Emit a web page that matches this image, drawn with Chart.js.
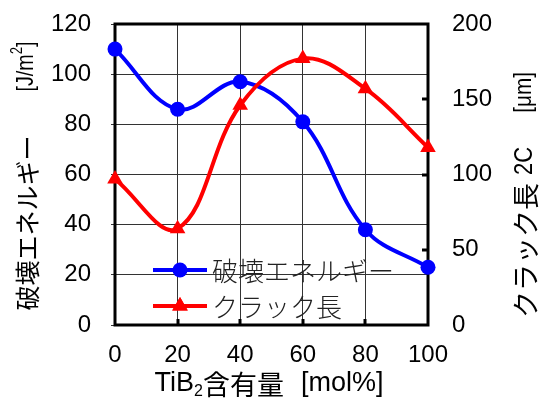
<!DOCTYPE html>
<html>
<head>
<meta charset="utf-8">
<script src="https://cdn.jsdelivr.net/npm/chart.js@4/dist/chart.umd.min.js"></script>
<style>
  html, body { margin: 0; padding: 0; background: #fff; }
  #wrap { width: 542px; height: 398px; }
</style>
</head>
<body>
<div id="wrap"><canvas id="c" width="542" height="398"></canvas></div>
<script>
// TiB2 content (mol%)
const tib2Content = [0, 20, 40, 60, 80, 100];
// Fracture energy [J/m2] (left axis)
const fractureEnergy = [110, 86, 97, 81, 38, 23];
// Crack length 2C [um] (right axis)
const crackLength = [97, 64, 146, 177, 157, 118];

const energyLabel = '破壊エネルギー';
const crackLabel = 'クラック長';

const latinFont = '"Liberation Sans", Arial, sans-serif';
const cjkFont = '"Noto Sans CJK JP", sans-serif';

function pts(ys) { return tib2Content.map((x, i) => ({ x: x, y: ys[i] })); }

// a run of text pieces; a piece is either text (own font, offset, horizontal squeeze) or a blank gap
function drawPieces(ctx, pieces, x, y) {
  let cx = x;
  pieces.forEach(p => {
    if (p.gap) { cx += p.gap; return; }
    const sx = p.sx || 1;
    ctx.font = p.font;
    ctx.save();
    ctx.translate(cx, y + (p.dy || 0));
    ctx.scale(sx, 1);
    ctx.fillText(p.t, 0, 0);
    ctx.restore();
    cx += ctx.measureText(p.t).width * sx;
  });
}
function measurePieces(ctx, pieces) {
  let w = 0;
  pieces.forEach(p => {
    if (p.gap) { w += p.gap; return; }
    ctx.font = p.font; w += ctx.measureText(p.t).width * (p.sx || 1);
  });
  return w;
}

const framePlugin = {
  id: 'frame',
  beforeDatasetsDraw(chart) {
    const { ctx, chartArea: a } = chart;
    ctx.save();
    ctx.strokeStyle = '#000';
    ctx.lineWidth = 3;
    ctx.strokeRect(a.left, a.top, a.right - a.left, a.bottom - a.top);
    // inward tick marks on the right axis
    const y1 = chart.scales.y1;
    [50, 100, 150].forEach(v => {
      const py = Math.round(y1.getPixelForValue(v));
      ctx.beginPath();
      ctx.moveTo(a.right - 6, py);
      ctx.lineTo(a.right, py);
      ctx.stroke();
    });
    // inward tick marks on the bottom axis
    const xs = chart.scales.x;
    [20, 40, 60, 80].forEach(v => {
      const px = Math.round(xs.getPixelForValue(v));
      ctx.beginPath();
      ctx.moveTo(px, a.bottom - 6);
      ctx.lineTo(px, a.bottom);
      ctx.stroke();
    });
    ctx.restore();
  }
};

const titlesPlugin = {
  id: 'titles',
  afterDraw(chart) {
    const { ctx } = chart;
    ctx.save();
    ctx.fillStyle = '#000';
    ctx.textBaseline = 'middle';
    ctx.textAlign = 'left';

    // x axis title
    const xt = [
      { t: 'TiB', font: '27px ' + latinFont },
      { t: '2', font: '16px ' + latinFont, dy: 8 },
      { t: '含有量', font: '27px ' + cjkFont, dy: 1 },
      { gap: 17 },
      { t: '[mol%]', font: '27px ' + latinFont }
    ];
    const xw = measurePieces(ctx, xt);
    drawPieces(ctx, xt, 269 - xw / 2, 384);

    // left axis title, reads bottom to top
    const lt = [
      { t: '破壊エネルギー', font: '25px ' + cjkFont, dy: 1 },
      { gap: 44 },
      { t: '[J/m', font: '24px ' + latinFont, sx: 0.82 },
      { t: '2', font: '16px ' + latinFont, dy: -8, sx: 0.82 },
      { t: ']', font: '24px ' + latinFont, sx: 0.82 }
    ];
    const lw = measurePieces(ctx, lt);
    ctx.save();
    ctx.translate(26, 176);
    ctx.rotate(-Math.PI / 2);
    drawPieces(ctx, lt, -lw / 2, 0);
    ctx.restore();

    // right axis title, reads bottom to top
    const rt = [
      { t: 'クラック長', font: '27px ' + cjkFont, dy: 1 },
      { gap: 8 },
      { t: '2C', font: '25px ' + latinFont, sx: 0.88 },
      { gap: 34 },
      { t: '[μm]', font: '23px ' + latinFont, sx: 0.9 }
    ];
    const rw = measurePieces(ctx, rt);
    ctx.save();
    ctx.translate(525, 195);
    ctx.rotate(-Math.PI / 2);
    drawPieces(ctx, rt, -rw / 2, 0);
    ctx.restore();

    ctx.restore();
  }
};

// legend drawn inside the plot area, lower left
const legendPlugin = {
  id: 'insideLegend',
  afterDraw(chart) {
    const { ctx } = chart;
    const items = [chart.data.datasets[1], chart.data.datasets[0]];
    ctx.save();
    items.forEach((ds, i) => {
      const y = 270 + i * 36;
      const x0 = 153, x1 = 207, xm = (x0 + x1) / 2;
      ctx.strokeStyle = ds.borderColor;
      ctx.lineWidth = ds.borderWidth;
      ctx.beginPath(); ctx.moveTo(x0, y); ctx.lineTo(x1, y); ctx.stroke();
      ctx.fillStyle = ds.pointBackgroundColor;
      if (ds.pointStyle === 'circle') {
        ctx.beginPath(); ctx.arc(xm, y, ds.pointRadius, 0, Math.PI * 2); ctx.fill();
      } else {
        Chart.helpers.drawPoint(ctx, { pointStyle: 'triangle', radius: ds.pointRadius, borderWidth: 0 }, xm, y);
        ctx.fill();
      }
      ctx.fillStyle = '#222';
      ctx.font = '300 26px ' + cjkFont;
      ctx.textBaseline = 'middle';
      ctx.textAlign = 'left';
      ctx.fillText(ds.label, 212, y + 1);
    });
    ctx.restore();
  }
};

const tickFont = { family: latinFont, size: 24 };

new Chart(document.getElementById('c'), {
  type: 'line',
  data: {
    datasets: [
      {
        label: crackLabel,
        data: pts(crackLength),
        yAxisID: 'y1',
        borderColor: '#ff0000',
        backgroundColor: '#ff0000',
        pointBackgroundColor: '#ff0000',
        pointBorderColor: '#ff0000',
        pointStyle: 'triangle',
        pointRadius: 9,
        pointBorderWidth: 0,
        borderWidth: 4,
        tension: 0.38,
        clip: false,
        order: 0
      },
      {
        label: energyLabel,
        data: pts(fractureEnergy),
        yAxisID: 'y',
        borderColor: '#0000ff',
        backgroundColor: '#0000ff',
        pointBackgroundColor: '#0000ff',
        pointBorderColor: '#0000ff',
        pointStyle: 'circle',
        pointRadius: 7.5,
        pointBorderWidth: 0,
        borderWidth: 4,
        tension: 0.38,
        clip: false,
        order: 1
      }
    ]
  },
  options: {
    responsive: false,
    animation: false,
    layout: { padding: { top: 24, left: 0, right: 0, bottom: 0 } },
    plugins: { legend: { display: false }, tooltip: { enabled: false } },
    scales: {
      x: {
        type: 'linear',
        min: 0, max: 100,
        ticks: { stepSize: 20, color: '#000', font: tickFont, padding: 16 },
        grid: { color: '#333', lineWidth: 1, drawTicks: false },
        border: { display: false },
        afterFit(s) { s.height = 73; s.paddingLeft = 0; s.paddingRight = 0; }
      },
      y: {
        position: 'left',
        min: 0, max: 120,
        ticks: { stepSize: 20, color: '#000', font: tickFont, padding: 20 },
        grid: { color: '#333', lineWidth: 1, tickLength: 4 },
        border: { display: false },
        afterFit(s) { s.width = 115; s.paddingTop = 0; s.paddingBottom = 0; }
      },
      y1: {
        position: 'right',
        min: 0, max: 200,
        ticks: { stepSize: 50, color: '#000', font: tickFont, padding: 24 },
        grid: { drawOnChartArea: false, drawTicks: false },
        border: { display: false },
        afterFit(s) { s.width = 114; s.paddingTop = 0; s.paddingBottom = 0; }
      }
    }
  },
  plugins: [framePlugin, titlesPlugin, legendPlugin]
});
</script>
</body>
</html>
